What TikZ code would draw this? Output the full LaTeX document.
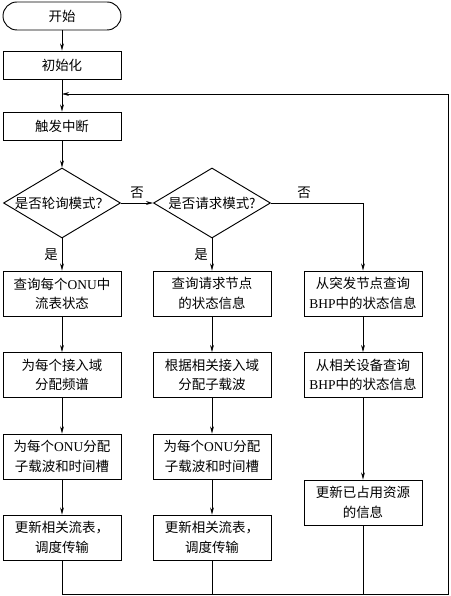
\documentclass[tikz,border=0pt]{standalone}
\usepackage{fontspec}
\setmainfont{Liberation Serif}
\newfontfamily\cjk{Noto Sans CJK SC}
\usepackage{tikz}
\usetikzlibrary{shapes.geometric, arrows.meta}

\begin{document}
\begin{tikzpicture}[
    >={Stealth[length=6pt, width=3.2pt]},
    every node/.style={font=\cjk\fontsize{11.5}{16.5}\selectfont, align=center},
    procbox/.style={draw, line width=0.8pt, minimum width=3.54cm, minimum height=1.35cm, inner sep=2pt},
    shortbox/.style={procbox, minimum height=0.84cm},
    decision/.style={draw, diamond, aspect=1.67, line width=0.8pt, minimum width=3.51cm, minimum height=2.1cm, inner sep=0pt},
    link/.style={line width=0.5pt}
]
                \useasboundingbox (0,0) rectangle (13.5,-17.88);

                % Start and setup
                \node[shortbox, rounded corners=0.42cm] (start) at (1.86,-0.48) {开始};
                \node[shortbox] (init) at (1.86,-1.95) {初始化};
                \node[shortbox] (trig) at (1.86,-3.78) {触发中断};

                % Decisions
                \node[decision] (poll) at (1.86,-6.09) {是否轮询模式？};
                \node[decision] (req) at (6.36,-6.09) {是否请求模式?};

                % Polling branch
                \node[procbox] (pollA) at (1.86,-8.805) {查询每个\textrm{ONU}中\\流表状态};
                \node[procbox] (pollB) at (1.86,-11.25) {为每个接入域\\分配频谱};
                \node[procbox] (pollC) at (1.86,-13.695) {为每个\textrm{ONU}分配\\子载波和时间槽};
                \node[procbox] (pollD) at (1.86,-16.125) {更新相关流表，\\调度传输};

                % Request branch
                \node[procbox] (reqA) at (6.36,-8.805) {查询请求节点\\的状态信息};
                \node[procbox] (reqB) at (6.36,-11.25) {根据相关接入域\\分配子载波};
                \node[procbox] (reqC) at (6.36,-13.695) {为每个\textrm{ONU}分配\\子载波和时间槽};
                \node[procbox] (reqD) at (6.36,-16.125) {更新相关流表，\\调度传输};

                % Burst branch
                \node[procbox] (burA) at (10.89,-8.805) {从突发节点查询\\\textrm{BHP}中的状态信息};
                \node[procbox] (burB) at (10.89,-11.25) {从相关设备查询\\\textrm{BHP}中的状态信息};
                \node[procbox] (burC) at (10.89,-15.075) {更新已占用资源\\的信息};

                % Loop corners
                \coordinate (loopR) at (13.44,-17.82);
                \coordinate (loopT) at (13.44,-2.82);

                % Main flow
                \draw[link, ->] (start) -- (init);
                \draw[link, ->] (init) -- (trig);
                \draw[link, ->] (trig) -- (poll);
                \draw[link, ->] (poll) -- (req) node[midway, above] {否};
                \draw[link, ->] (req.east) -| (burA.north) node[pos=0.18, above] {否};
                \draw[link, ->] (poll) -- (pollA) node[midway, left] {是};
                \draw[link, ->] (req) -- (reqA) node[midway, left] {是};

                % Branch steps
                \draw[link, ->] (pollA) -- (pollB);
                \draw[link, ->] (pollB) -- (pollC);
                \draw[link, ->] (pollC) -- (pollD);
                \draw[link, ->] (reqA) -- (reqB);
                \draw[link, ->] (reqB) -- (reqC);
                \draw[link, ->] (reqC) -- (reqD);
                \draw[link, ->] (burA) -- (burB);
                \draw[link, ->] (burB) -- (burC);

                % Return to interrupt
                \draw[link] (reqD) -- (reqD |- loopR);
                \draw[link] (burC) -- (burC |- loopR);
                \draw[link, ->] (pollD) |- (loopR) -- (loopT) -- (init |- loopT);
\end{tikzpicture}
\end{document}
